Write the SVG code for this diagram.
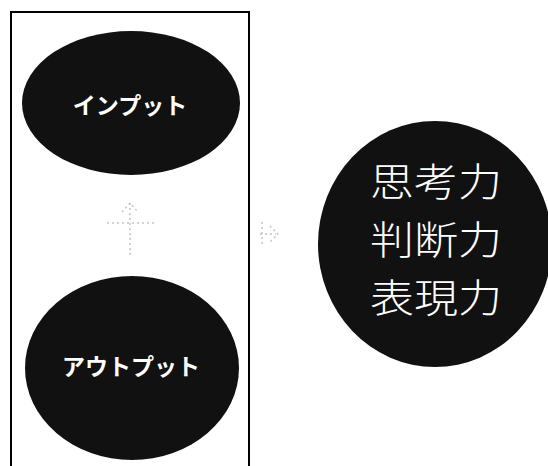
<svg xmlns="http://www.w3.org/2000/svg" width="548" height="466" viewBox="0 0 548 466">
<style>
.blob{fill:#111;}
.lbl{fill:#fff;font-family:"Noto Sans CJK JP","Noto Sans CJK SC",sans-serif;text-anchor:middle;}
.kana{font-size:23px;font-weight:700;}
.big{font-size:39px;font-weight:300;}
.faint{fill:none;stroke:#c4c4c4;stroke-width:1.5;stroke-dasharray:2 3;}
</style>
<rect width="548" height="466" fill="#fff"/>
<rect id="frame" x="11" y="12" width="238" height="470" fill="none" stroke="#000" stroke-width="2"/>
<g id="input">
<ellipse class="blob" cx="131" cy="103" rx="109" ry="72"/>
<text class="lbl kana" x="130" y="114">インプット</text>
</g>
<g id="output">
<ellipse class="blob" cx="132" cy="368" rx="107" ry="92"/>
<text class="lbl kana" x="131" y="375">アウトプット</text>
</g>
<g id="abilities">
<ellipse class="blob" cx="435" cy="244" rx="117" ry="123"/>
<text class="lbl big" x="436" y="196" textLength="132" lengthAdjust="spacingAndGlyphs">思考力</text>
<text class="lbl big" x="436" y="254" textLength="132" lengthAdjust="spacingAndGlyphs">判断力</text>
<text class="lbl big" x="436" y="312" textLength="132" lengthAdjust="spacingAndGlyphs">表現力</text>
</g>
<g id="connectors">
<path class="faint" d="M130 203 V255 M107 223 H155 M122 212 L130 203 L138 212"/>
<path class="faint" d="M260 234 H276 M270 226 L278 234 L270 242 M262 222 V246"/>
</g>
</svg>
